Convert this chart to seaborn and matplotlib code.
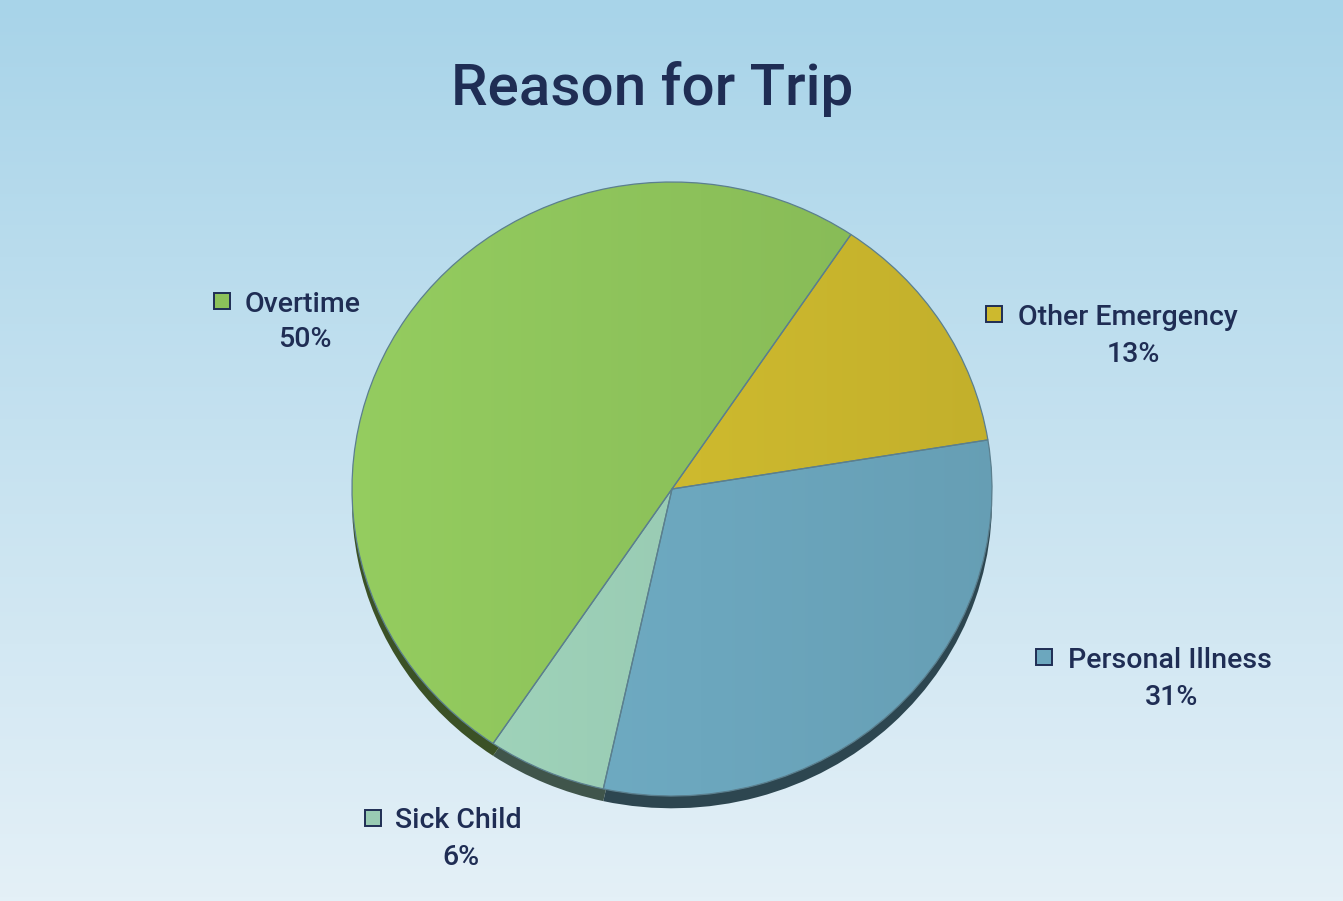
import numpy as np
import matplotlib
matplotlib.use("Agg")
import matplotlib.pyplot as plt
import matplotlib.colors as mcolors
from matplotlib.patches import Rectangle
import seaborn as sns

# ---- data ----
categories = ["Other Emergency", "Personal Illness", "Sick Child", "Overtime"]
percents = [13, 31, 6, 50]
slice_colors = ["#cdb92e", "#6ca7be", "#99cbb3", "#8cc15a"]
title_text = "Reason for Trip"

sns.set_theme(style="white")
plt.rcParams['font.family'] = ['Roboto', 'DejaVu Sans']

W, H = 1343, 901
fig = plt.figure(figsize=(W / 100, H / 100), dpi=100)

# background gradient
bg = fig.add_axes([0, 0, 1, 1], zorder=0)
top = np.array(mcolors.to_rgb("#a8d4e9"))
bot = np.array(mcolors.to_rgb("#e4f0f7"))
t = np.linspace(0, 1, 256)[:, None]
grad = top[None, :] * (1 - t) + bot[None, :] * t
bg.imshow(grad[:, None, :], aspect="auto", extent=[0, 1, 0, 1], origin="upper")
bg.set_axis_off()

# pie axes (elliptical: aspect auto)
cx, cy, rx, ry = 672, 489, 320, 307
ax = fig.add_axes([(cx - rx) / W, (H - (cy + ry)) / H, 2 * rx / W, 2 * ry / H], zorder=1)
ax.patch.set_alpha(0)

def darken(c, f):
    r = np.array(mcolors.to_rgb(c))
    return tuple(r * f)

# side wall / shadow
shadow_cols = [darken(c, 0.42) for c in slice_colors]
sw, _ = ax.pie(percents, colors=shadow_cols, startangle=56, counterclock=False,
               center=(0, -0.04), radius=1.0,
               wedgeprops=dict(edgecolor="none"))
for w in sw:
    w.set_clip_on(False)
    w.set_zorder(0.2)

wedges, _ = ax.pie(percents, colors=slice_colors, startangle=56, counterclock=False,
                   radius=1.0,
                   wedgeprops=dict(edgecolor="#5b7f8e", linewidth=0.9))
ax.set_aspect("auto")
ax.set_xlim(-1, 1)
ax.set_ylim(-1, 1)
ax.set_axis_off()

# subtle horizontal shading inside each slice
xs = np.linspace(0, 1, 256)
for w, c in zip(wedges, slice_colors):
    base = np.array(mcolors.to_rgb(c))
    light = np.clip(base * 1.06, 0, 1)
    dark = base * 0.95
    g = light[None, :] * (1 - xs[:, None]) + dark[None, :] * xs[:, None]
    im = ax.imshow(g[None, :, :], aspect="auto", extent=[-1, 1, -1, 1], zorder=0.5)
    im.set_clip_path(w)
    w.set_facecolor("none")
    w.set_zorder(1)
ax.set_aspect("auto")
ax.set_xlim(-1, 1)
ax.set_ylim(-1, 1)

# overlay for text in pixel coords
ov = fig.add_axes([0, 0, 1, 1], zorder=2)
ov.patch.set_alpha(0)
ov.set_xlim(0, W)
ov.set_ylim(H, 0)
ov.set_axis_off()

navy = "#1f2d54"
ov.text(652, 105, title_text, fontsize=42, color=navy, ha="center", va="baseline",
        fontweight="medium")

label_layout = {
    "Overtime": dict(sq=(222, 301), name=(245, 312), pct=(305, 347)),
    "Other Emergency": dict(sq=(994, 314), name=(1018, 325), pct=(1133, 362)),
    "Personal Illness": dict(sq=(1044, 657), name=(1068, 668), pct=(1172, 705)),
    "Sick Child": dict(sq=(373, 818), name=(395, 828), pct=(461, 865)),
}
sq_size = 16
for cat, p, c in zip(categories, percents, slice_colors):
    L = label_layout[cat]
    sx, sy = L["sq"]
    ov.add_patch(Rectangle((sx - sq_size / 2, sy - sq_size / 2), sq_size, sq_size,
                           facecolor=c, edgecolor=navy, linewidth=1.4))
    ov.text(L["name"][0], L["name"][1], cat, fontsize=20.5, color=navy,
            ha="left", va="baseline", fontweight="medium")
    ov.text(L["pct"][0], L["pct"][1], f"{p}%", fontsize=20.5, color=navy,
            ha="center", va="baseline", fontweight="medium")

fig.savefig("out.png", dpi=100)
